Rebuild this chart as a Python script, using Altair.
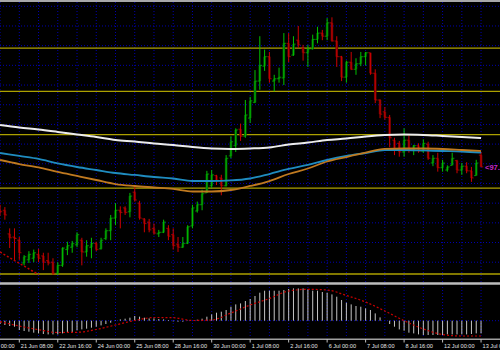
import altair as alt
import pandas as pd

# ---------------- data (H4 bars, index 0 = 21 Jun 08:00) ----------------
bars = list(range(-4, 97))

open_ = [96.66, 96.66, 96.36, 96.32, 96.28, 95.99, 96.03, 96.05, 96.10, 96.08,
         96.02, 96.00, 95.86, 95.96, 96.16, 96.19, 96.22, 96.28, 96.13, 96.19,
         96.24, 96.17, 96.30, 96.40, 96.56, 96.66, 96.69, 96.64, 96.89, 96.75,
         96.55, 96.51, 96.43, 96.36, 96.38, 96.43, 96.35, 96.23, 96.19, 96.24,
         96.46, 96.65, 96.73, 96.88, 96.97, 97.10, 97.07, 96.97, 97.35, 97.48,
         97.69, 97.60, 97.83, 98.03, 98.30, 98.49, 98.61, 98.30, 98.33, 98.34,
         98.78, 98.63, 98.82, 98.72, 98.66, 98.71, 98.83, 98.91, 98.87, 99.04,
         98.81, 98.61, 98.35, 98.54, 98.45, 98.52, 98.61, 98.66, 98.40, 98.06,
         97.91, 97.84, 97.55, 97.51, 97.40, 97.55, 97.42, 97.48, 97.41, 97.50,
         97.26, 97.32, 97.20, 97.17, 97.23, 97.29, 97.17, 97.22, 97.16, 97.10, 97.36]

high = [96.73, 96.70, 96.43, 96.43, 96.32, 96.09, 96.14, 96.16, 96.17, 96.12,
        96.12, 96.05, 96.00, 96.19, 96.26, 96.27, 96.38, 96.31, 96.28, 96.31,
        96.26, 96.31, 96.43, 96.60, 96.75, 96.71, 96.71, 96.88, 96.96, 96.78,
        96.56, 96.55, 96.49, 96.41, 96.54, 96.47, 96.43, 96.32, 96.32, 96.47,
        96.73, 96.77, 96.92, 97.16, 97.17, 97.11, 97.11, 97.36, 97.60, 97.70,
        97.76, 98.06, 98.10, 98.44, 98.87, 98.70, 98.67, 98.38, 98.47, 98.91,
        98.91, 98.87, 99.00, 98.76, 98.76, 98.89, 98.99, 98.95, 99.10, 99.11,
        98.87, 98.62, 98.56, 98.67, 98.59, 98.67, 98.67, 98.66, 98.45, 98.07,
        97.97, 97.87, 97.58, 97.54, 97.70, 97.61, 97.49, 97.51, 97.56, 97.53,
        97.36, 97.39, 97.30, 97.23, 97.39, 97.30, 97.26, 97.27, 97.21, 97.30, 97.40]

low = [96.59, 96.54, 96.18, 96.02, 96.03, 95.96, 95.99, 96.00, 96.00, 95.90,
       95.96, 95.84, 95.84, 95.94, 96.09, 96.12, 96.19, 95.96, 96.07, 96.05,
       96.14, 96.16, 96.28, 96.28, 96.47, 96.43, 96.60, 96.57, 96.77, 96.54,
       96.38, 96.38, 96.35, 96.32, 96.37, 96.28, 96.16, 96.13, 96.18, 96.23,
       96.43, 96.63, 96.66, 96.88, 96.94, 96.98, 96.85, 96.96, 97.32, 97.40,
       97.54, 97.58, 97.77, 98.02, 98.19, 98.43, 98.28, 98.17, 98.28, 98.25,
       98.54, 98.62, 98.72, 98.56, 98.48, 98.70, 98.78, 98.82, 98.82, 98.80,
       98.48, 98.30, 98.28, 98.44, 98.38, 98.49, 98.50, 98.38, 98.02, 97.83,
       97.81, 97.46, 97.36, 97.34, 97.34, 97.39, 97.36, 97.39, 97.39, 97.30,
       97.22, 97.15, 97.15, 97.15, 97.23, 97.13, 97.11, 97.13, 97.02, 97.10, 97.21]

close = [96.64, 96.60, 96.31, 96.30, 96.12, 96.07, 96.10, 96.12, 96.05, 96.00,
         95.99, 95.86, 95.96, 96.18, 96.21, 96.24, 96.35, 96.13, 96.21, 96.24,
         96.16, 96.28, 96.40, 96.56, 96.66, 96.63, 96.63, 96.84, 96.79, 96.56,
         96.49, 96.41, 96.37, 96.38, 96.51, 96.33, 96.21, 96.19, 96.24, 96.45,
         96.69, 96.73, 96.87, 97.12, 97.11, 97.04, 96.97, 97.32, 97.53, 97.68,
         97.60, 97.87, 98.05, 98.30, 98.50, 98.61, 98.33, 98.33, 98.35, 98.78,
         98.61, 98.77, 98.76, 98.66, 98.71, 98.83, 98.91, 98.87, 99.04, 98.81,
         98.61, 98.35, 98.54, 98.45, 98.52, 98.61, 98.66, 98.40, 98.06, 97.88,
         97.84, 97.58, 97.42, 97.40, 97.55, 97.42, 97.48, 97.41, 97.51, 97.32,
         97.32, 97.20, 97.26, 97.21, 97.32, 97.17, 97.22, 97.16, 97.07, 97.26, 97.21]

macd_hist = [-0.033, -0.043, -0.053, -0.060, -0.093, -0.103, -0.110, -0.120, -0.127, -0.133,
             -0.137, -0.137, -0.137, -0.127, -0.117, -0.113, -0.097, -0.087, -0.080, -0.070,
             -0.060, -0.047, -0.033, -0.020, -0.003, 0.013, 0.020, 0.030, 0.047, 0.040,
             0.030, 0.023, 0.023, 0.017, 0.013, 0.007, -0.007, -0.010, -0.010, -0.003,
             0.000, 0.010, 0.020, 0.040, 0.063, 0.080, 0.090, 0.107, 0.140, 0.163,
             0.173, 0.197, 0.217, 0.247, 0.280, 0.300, 0.300, 0.300, 0.300, 0.307,
             0.317, 0.323, 0.323, 0.323, 0.313, 0.300, 0.300, 0.287, 0.280, 0.263,
             0.240, 0.207, 0.180, 0.163, 0.147, 0.140, 0.123, 0.107, 0.073, 0.033,
             0.000, -0.033, -0.060, -0.087, -0.100, -0.120, -0.127, -0.137, -0.143, -0.143,
             -0.143, -0.143, -0.143, -0.137, -0.137, -0.137, -0.137, -0.137, -0.133, -0.127, -0.127]

# moving averages / signal read every 4 bars
ma_bars = [-4, 0, 4, 8, 12, 16, 20, 24, 28, 32, 36, 40, 44, 48, 52, 56, 60, 64,
           68, 72, 76, 80, 84, 88, 92, 96]
ma_white = [97.743, 97.711, 97.685, 97.654, 97.622, 97.590, 97.552, 97.533, 97.508,
            97.489, 97.463, 97.444, 97.438, 97.444, 97.457, 97.495, 97.520, 97.552,
            97.571, 97.597, 97.616, 97.622, 97.616, 97.603, 97.590, 97.577]
ma_blue = [97.387, 97.349, 97.311, 97.254, 97.209, 97.171, 97.133, 97.108, 97.082,
           97.063, 97.031, 97.031, 97.038, 97.063, 97.120, 97.184, 97.235, 97.298,
           97.349, 97.387, 97.425, 97.425, 97.419, 97.412, 97.406, 97.393]
ma_orange = [97.298, 97.247, 97.203, 97.146, 97.095, 97.044, 96.993, 96.968, 96.949,
             96.930, 96.898, 96.898, 96.917, 96.968, 97.031, 97.120, 97.190, 97.279,
             97.336, 97.393, 97.438, 97.444, 97.444, 97.438, 97.425, 97.412]
macd_signal = [-0.010, -0.053, -0.090, -0.118, -0.116, -0.088, -0.043, 0.002, 0.032,
               0.030, 0.002, 0.007, 0.077, 0.157, 0.222, 0.297, 0.314, 0.307, 0.252,
               0.187, 0.097, 0.000, -0.083, -0.138, -0.153, -0.153]

# red dotted indicator at lower left
dot_bars = [-4, -2, 0, 2, 4]
dot_vals = [96.13, 96.057, 95.986, 95.914, 95.843]

levels = [98.72, 98.17, 97.62, 96.94, 95.85]
grid_prices = [96.00, 96.25, 96.50, 96.75, 97.00, 97.25, 97.50, 97.75, 98.00,
               98.25, 98.50, 98.75, 99.00, 99.25]
grid_bars = [-4, 0, 4, 8, 12, 16, 20, 24, 28, 32, 36, 40, 44, 48, 52, 56, 60, 64,
             68, 72, 76, 80, 84, 88, 92, 96]
tick_bars = [-8, 0, 8, 16, 24, 32, 40, 48, 56, 64, 72, 80, 88, 96]
tick_labels = ["18 Jun 00:00", "21 Jun 08:00", "22 Jun 16:00", "24 Jun 00:00",
               "25 Jun 08:00", "28 Jun 16:00", "30 Jun 00:00", "1 Jul 08:00",
               "2 Jul 16:00", "6 Jul 00:00", "7 Jul 08:00", "8 Jul 16:00",
               "12 Jul 00:00", "13 Jul 08:00"]

# ---------------- scales ----------------
X = alt.Scale(domain=[-4.0125, 99.938], range=[0, 500], nice=False, zero=False)
Y_MAIN = alt.Scale(domain=[95.7486, 99.3046], range=[282, 2], nice=False, zero=False)
Y_MACD = alt.Scale(domain=[-0.173, 0.357], range=[338, 285], nice=False, zero=False)


def xq(f):
    return alt.X(f"{f}:Q", scale=X, axis=None)


def ym(f):
    return alt.Y(f"{f}:Q", scale=Y_MAIN, axis=None)


def yd(f):
    return alt.Y(f"{f}:Q", scale=Y_MACD, axis=None)


one = pd.DataFrame({"a": [0]})
cdf = pd.DataFrame(dict(bar=bars, open=open_, high=high, low=low, close=close, hist=macd_hist))
madf = pd.DataFrame(dict(bar=ma_bars, white=ma_white, blue=ma_blue, orange=ma_orange, signal=macd_signal))
dotdf = pd.DataFrame(dict(bar=dot_bars, v=dot_vals))
lvdf = pd.DataFrame(dict(p=levels))
gpdf = pd.DataFrame(dict(p=grid_prices))
gbdf = pd.DataFrame(dict(bar=grid_bars))
tkdf = pd.DataFrame(dict(bar=tick_bars, label=tick_labels))
lastdf = pd.DataFrame(dict(bar=[bars[-1]], p=[close[-1]], label=["<" + f"{close[-1]:.2f}"]))

up = alt.datum.close >= alt.datum.open
GRID = "#0000b0"

layers = []
# grid
layers.append(alt.Chart(gpdf).mark_rule(strokeWidth=1, strokeDash=[1, 2], color=GRID).encode(
    y=ym("p"), x=alt.value(0), x2=alt.value(500)))
layers.append(alt.Chart(gbdf).mark_rule(strokeWidth=1, strokeDash=[1, 2], color=GRID).encode(
    x=xq("bar"), y=alt.value(2), y2=alt.value(338)))
layers.append(alt.Chart(pd.DataFrame({"v": [0]})).mark_rule(strokeWidth=1, strokeDash=[1, 2], color=GRID).encode(
    y=yd("v"), x=alt.value(0), x2=alt.value(500)))
# horizontal levels
layers.append(alt.Chart(lvdf).mark_rule(strokeWidth=1.3, color="#aca000").encode(
    y=ym("p"), x=alt.value(0), x2=alt.value(500)))
# candles
layers.append(alt.Chart(cdf).mark_rule(strokeWidth=2.6).encode(
    x=xq("bar"), y=ym("open"), y2="close",
    color=alt.condition(up, alt.value("#005a00"), alt.value("#680000"))))
layers.append(alt.Chart(cdf).mark_rule(strokeWidth=1).encode(
    x=xq("bar"), y=ym("low"), y2="high",
    color=alt.condition(up, alt.value("#00c000"), alt.value("#cc0000"))))
layers.append(alt.Chart(cdf).mark_tick(orient="horizontal", size=2, thickness=1, xOffset=-1.2).encode(
    x=xq("bar"), y=ym("open"),
    color=alt.condition(up, alt.value("#00c000"), alt.value("#cc0000"))))
layers.append(alt.Chart(cdf).mark_tick(orient="horizontal", size=2, thickness=1, xOffset=1.2).encode(
    x=xq("bar"), y=ym("close"),
    color=alt.condition(up, alt.value("#00c000"), alt.value("#cc0000"))))
# moving averages
layers.append(alt.Chart(madf).mark_line(strokeWidth=2, color="#ececec", interpolate="monotone").encode(
    x=xq("bar"), y=ym("white")))
layers.append(alt.Chart(madf).mark_line(strokeWidth=1.8, color="#1f8cc0", interpolate="monotone").encode(
    x=xq("bar"), y=ym("blue")))
layers.append(alt.Chart(madf).mark_line(strokeWidth=1.8, color="#c07a20", interpolate="monotone").encode(
    x=xq("bar"), y=ym("orange")))
layers.append(alt.Chart(dotdf).mark_line(strokeWidth=1.5, strokeDash=[2, 2], color="#c00000").encode(
    x=xq("bar"), y=ym("v")))
# MACD
layers.append(alt.Chart(cdf).transform_calculate(zero="0").mark_rule(strokeWidth=1, color="#c4c4c4").encode(
    x=xq("bar"), y=yd("zero"), y2="hist"))
layers.append(alt.Chart(madf).mark_line(strokeWidth=1.2, strokeDash=[2, 2], color="#c80000", interpolate="monotone").encode(
    x=xq("bar"), y=yd("signal")))
# frame lines
layers.append(alt.Chart(one).mark_rule(strokeWidth=2, color="#a8a8a8").encode(
    x=alt.value(0), x2=alt.value(500), y=alt.value(1)))
layers.append(alt.Chart(one).mark_rule(strokeWidth=2.5, color="#bcbcbc").encode(
    x=alt.value(0), x2=alt.value(500), y=alt.value(283.5)))
layers.append(alt.Chart(one).mark_rule(strokeWidth=1.5, color="#a0a0a0").encode(
    x=alt.value(0), x2=alt.value(500), y=alt.value(339.3)))
# time ticks and labels
layers.append(alt.Chart(tkdf).mark_rule(strokeWidth=1, color="#c0c0c0").encode(
    x=xq("bar"), y=alt.value(339), y2=alt.value(342.5)))
layers.append(alt.Chart(tkdf).mark_text(align="left", baseline="middle", dx=1.5, font="Liberation Sans",
                                        fontSize=5.6, color="#e4e4e4").encode(
    x=xq("bar"), y=alt.value(345.8), text="label:N"))
# last price label
layers.append(alt.Chart(lastdf).mark_text(align="left", baseline="middle", dx=4, dy=1, font="Liberation Sans",
                                          fontSize=7.5, fontWeight="bold", color="#c828c8").encode(
    x=xq("bar"), y=ym("p"), text="label:N"))

chart = alt.layer(*layers).resolve_scale(y="independent").properties(
    width=500, height=350, padding=0, autosize=alt.AutoSizeParams(type="none")
).configure(background="#000000").configure_view(stroke=None, fill="#000000")

chart.save("out.html", embed_options={"renderer": "svg", "actions": False})
